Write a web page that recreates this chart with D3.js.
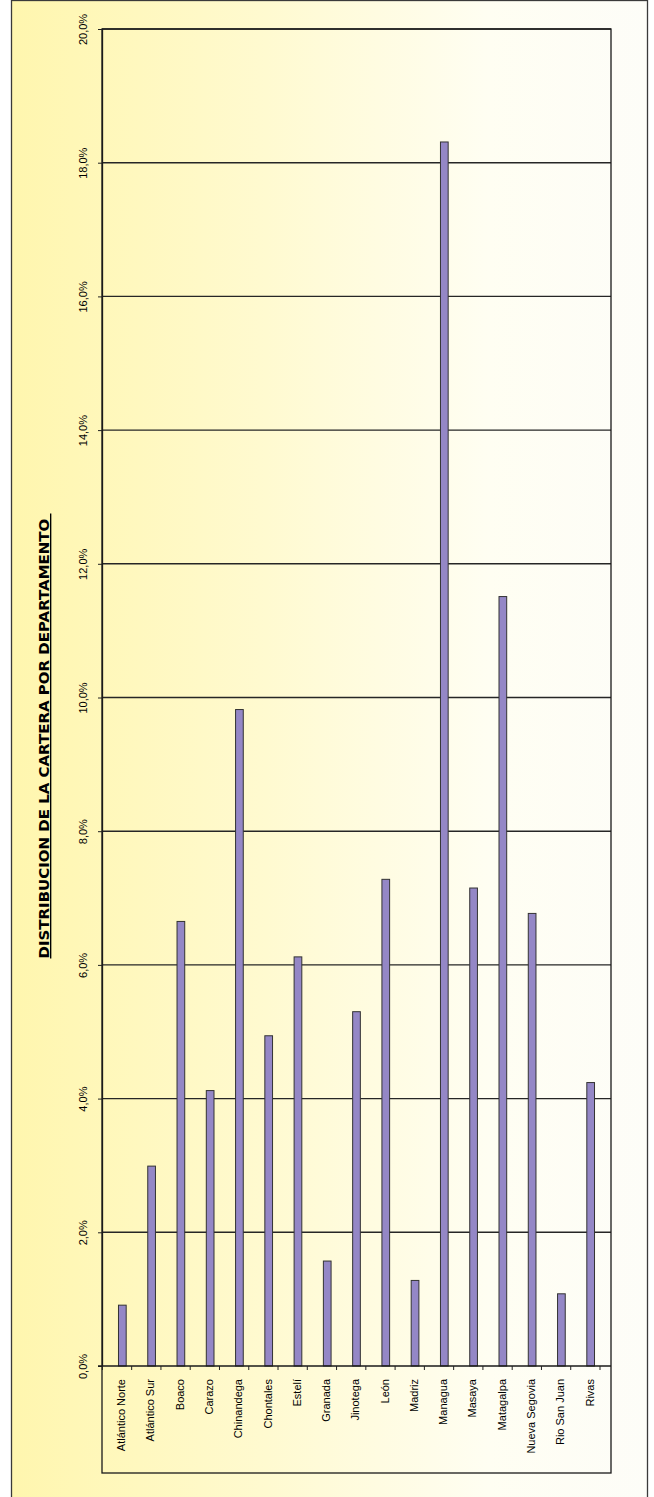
<!DOCTYPE html>
<html>
<head>
<meta charset="utf-8">
<script src="https://cdn.jsdelivr.net/npm/d3@7"></script>
<style>
  html, body { margin: 0; padding: 0; background: #ffffff; }
  svg { display: block; }
</style>
</head>
<body>
<div id="chart"></div>
<script>
const categories = ["Atlántico Norte", "Atlántico Sur", "Boaco", "Carazo", "Chinandega", "Chontales", "Estelí", "Granada", "Jinotega", "León", "Madriz", "Managua", "Masaya", "Matagalpa", "Nueva Segovia", "Rio San Juan", "Rivas"];
const values = [0.91, 2.99, 6.65, 4.12, 9.82, 4.94, 6.12, 1.57, 5.30, 7.28, 1.28, 18.31, 7.15, 11.51, 6.77, 1.08, 4.24];
const tickValues = [0, 2, 4, 6, 8, 10, 12, 14, 16, 18, 20];
const title = "DISTRIBUCION DE LA CARTERA POR DEPARTAMENTO ";

const W = 654, H = 1497;
const plot = { left: 102, right: 611, top: 29, base: 1366, bottom: 1473 };

const svg = d3.select("#chart").append("svg")
  .attr("width", W).attr("height", H);

const defs = svg.append("defs");
const grad = defs.append("linearGradient")
  .attr("id", "bg").attr("gradientUnits", "userSpaceOnUse")
  .attr("x1", 11).attr("y1", 0).attr("x2", 647).attr("y2", 0);
grad.append("stop").attr("offset", "0%").attr("stop-color", "#fff6ae");
grad.append("stop").attr("offset", "40%").attr("stop-color", "#fffad0");
grad.append("stop").attr("offset", "75%").attr("stop-color", "#fffef2");
grad.append("stop").attr("offset", "100%").attr("stop-color", "#fdfdf8");

// outer chart area
svg.append("rect")
  .attr("x", 11.5).attr("y", 0.5).attr("width", 636).attr("height", H + 2)
  .attr("fill", "url(#bg)").attr("stroke", "#3a3a3a").attr("stroke-width", 1.3);

const y = d3.scaleLinear().domain([0, 20]).range([plot.base, plot.top]);
const x = d3.scaleBand().domain(categories).range([102.4, 600]).padding(0);

const barW = 7.7, barShift = 5.3;
const cx = d => x(d) + x.bandwidth() / 2 + barShift;

// gridlines
svg.append("g").selectAll("line").data(tickValues.filter(t => t > 0)).join("line")
  .attr("x1", plot.left).attr("x2", plot.right)
  .attr("y1", d => y(d)).attr("y2", d => y(d))
  .attr("stroke", "#262626").attr("stroke-width", 1.4);

// plot area border (incl. category label box)
svg.append("rect")
  .attr("x", plot.left).attr("y", plot.top)
  .attr("width", plot.right - plot.left).attr("height", plot.bottom - plot.top)
  .attr("fill", "none").attr("stroke", "#1a1a1a").attr("stroke-width", 1.3);

// bars
svg.append("g").selectAll("rect").data(categories).join("rect")
  .attr("x", d => cx(d) - barW / 2)
  .attr("y", (d, i) => y(values[i]))
  .attr("width", barW)
  .attr("height", (d, i) => y(0) - y(values[i]))
  .attr("fill", "#9487c6").attr("stroke", "#333333").attr("stroke-width", 1);

// value axis
const fmt = v => d3.format(".1f")(v).replace(".", ",") + "%";
const yAxis = svg.append("g").attr("transform", `translate(${plot.left},0)`)
  .call(d3.axisLeft(y).tickValues(tickValues).tickFormat(fmt).tickSize(4).tickSizeOuter(0));
yAxis.select(".domain").attr("stroke", "#1a1a1a").attr("stroke-width", 1.3);
yAxis.selectAll(".tick line").attr("stroke", "#222222");
yAxis.selectAll(".tick text")
  .attr("x", null).attr("dy", null)
  .attr("transform", "translate(-15,0) rotate(-90)")
  .attr("text-anchor", "middle")
  .attr("font-family", "Liberation Sans, Arial, sans-serif")
  .attr("font-size", 11).attr("fill", "#000");

// category axis
svg.append("line")
  .attr("x1", plot.left - 4).attr("x2", plot.right)
  .attr("y1", plot.base).attr("y2", plot.base)
  .attr("stroke", "#1a1a1a").attr("stroke-width", 1.3);
const bounds = categories.map(c => x(c)).concat([x.range()[1]]);
svg.append("g").selectAll("line").data(bounds).join("line")
  .attr("x1", d => d).attr("x2", d => d)
  .attr("y1", plot.base).attr("y2", plot.base + 4)
  .attr("stroke", "#222222").attr("stroke-width", 1);
svg.append("g").selectAll("text").data(categories).join("text")
  .attr("transform", d => `translate(${cx(d) - 1},${plot.base + 13}) rotate(-90)`)
  .attr("text-anchor", "end").attr("dy", "0.35em")
  .attr("font-family", "Liberation Sans, Arial, sans-serif")
  .attr("font-size", 11).attr("fill", "#000")
  .text(d => d);

// title
svg.append("text")
  .attr("transform", "translate(49,736) rotate(-90)")
  .attr("text-anchor", "middle")
  .attr("font-family", "DejaVu Sans, Verdana, sans-serif")
  .attr("font-weight", "bold").attr("font-size", 13.5)
  .attr("text-decoration", "underline")
  .attr("textLength", 445).attr("lengthAdjust", "spacingAndGlyphs")
  .attr("fill", "#000")
  .style("white-space", "pre")
  .text(title);
</script>
</body>
</html>
